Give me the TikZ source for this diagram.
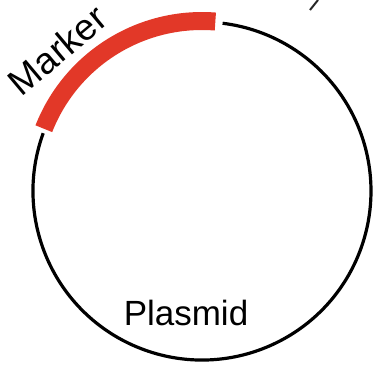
\documentclass[tikz,border=0pt]{standalone}
\usepackage{fontspec}
\setmainfont{Liberation Sans}
\definecolor{markerred}{RGB}{226,56,40}
\begin{document}
\begin{tikzpicture}[x=1pt,y=1pt,
  plasmidline/.style={line width=3.2pt,black},
  markerband/.style={line width=18pt,markerred,line cap=butt},
  lbl/.style={font=\fontsize{35}{40}\selectfont,inner sep=0pt},
  mlbl/.style={font=\fontsize{37}{42}\selectfont,inner sep=0pt},
  tick/.style={line width=2pt,black!85}]
\useasboundingbox (0,0) rectangle (380,-365);
\coordinate (C) at (202,-191);
% plasmid backbone
\draw[plasmidline] ([shift={(160:169)}]C) arc[start angle=160,end angle=443,radius=169];
% marker
\draw[markerband] ([shift={(85.5:170)}]C) arc[start angle=85.5,end angle=158.5,radius=170];
\node[mlbl,anchor=base,rotate=40] (marker) at (66,-60) {Marker};
\node[lbl,anchor=base] (plasmid) at (186,-325) {Plasmid};
% small fragment at top right
\coordinate (t1) at (318,0);
\coordinate (t2) at (310,-10);
\draw[tick] (t1) -- (t2);
\end{tikzpicture}
\end{document}
